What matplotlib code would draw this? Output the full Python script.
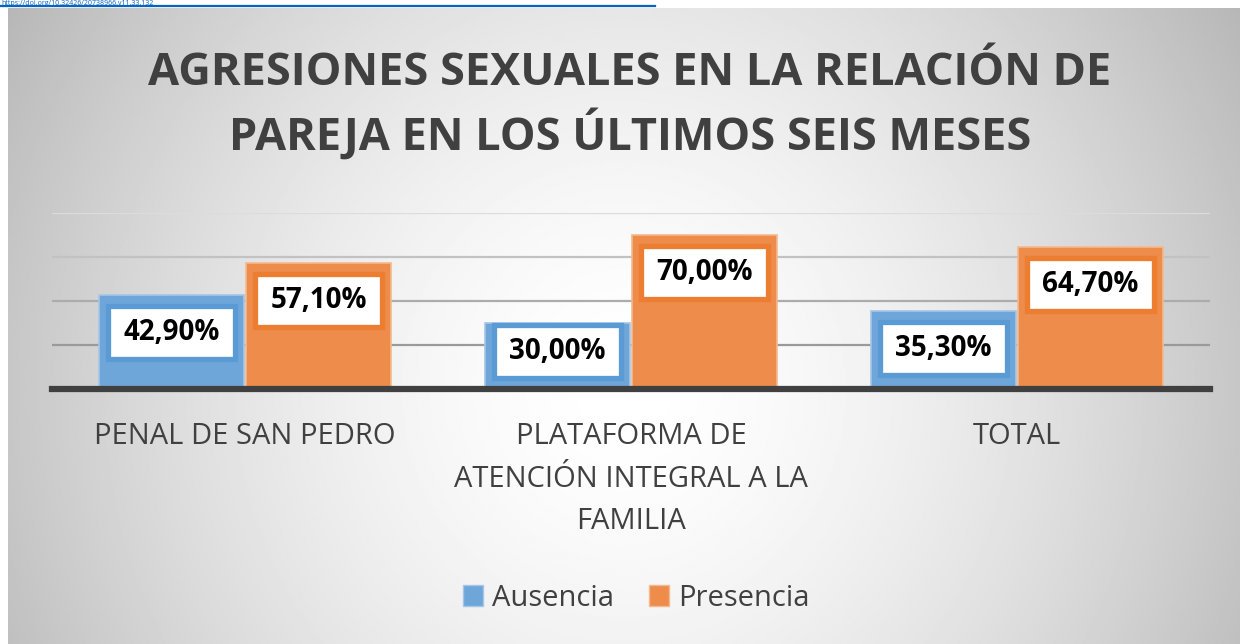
import numpy as np
import matplotlib
matplotlib.use("Agg")
import matplotlib.pyplot as plt
from matplotlib.lines import Line2D
from matplotlib.patches import Rectangle

plt.rcParams['font.family'] = ['Open Sans', 'DejaVu Sans']

# --- data ---
categories = ["PENAL DE SAN PEDRO", "PLATAFORMA DE\nATENCIÓN INTEGRAL A LA\nFAMILIA", "TOTAL"]
series_names = ["Ausencia", "Presencia"]
ausencia = [42.9, 30.0, 35.3]
presencia = [57.1, 70.0, 64.7]
gridlines = [20, 40, 60, 80]
title_lines = ["AGRESIONES SEXUALES EN LA RELACIÓN DE", "PAREJA EN LOS ÚLTIMOS SEIS MESES"]
link = "https://doi.org/10.32426/20738966.v11.33.132"

BLUE, ORANGE = "#5b9bd5", "#ed7d31"
BLUE_FILL, ORANGE_FILL = "#6fa6da", "#ee8c4b"
BLUE_EDGE, ORANGE_EDGE = "#a5c6e8", "#f4b98f"
TXT = "#404040"

W, H = 1240, 644
fig = plt.figure(figsize=(W / 100, H / 100), dpi=100)
fig.patch.set_facecolor("white")

# gradient background panel
bg = fig.add_axes([8 / W, 0, (W - 8) / W, (H - 8) / H])
bg.set_axis_off()
yy, xx = np.mgrid[-1:1:300j, -1:1:600j]
r = np.sqrt(xx ** 2 + 0.25 * (yy - 0.2) ** 2)
v = np.clip(1 - 0.22 * r ** 1.6, 0, 1)
bg.imshow(v, cmap="gray", vmin=0, vmax=1, aspect="auto", extent=[0, 1, 0, 1])
bg.set_xlim(0, 1)
bg.set_ylim(0, 1)

# link strip at the very top
fig.text(1 / W, 1 - 3.5 / H, link, color="#0563c1", fontsize=5, ha="left", va="center")
fig.add_artist(Line2D([0, 655 / W], [1 - 6 / H, 1 - 6 / H], color="#0563c1", lw=1.6))

# main axes
x0, x1 = 52, 1210
ybase, ytop = 389, 213
ax = fig.add_axes([x0 / W, (H - ybase) / H, (x1 - x0) / W, (ybase - ytop) / H])
ax.patch.set_alpha(0)
ax.set_xlim(-0.5, len(categories) - 0.5)
ax.set_ylim(0, 80)
for s in ax.spines.values():
    s.set_visible(False)
ax.set_yticks([])
ax.set_xticks([])

grid_colors = ["#9a9a9a", "#acacac", "#c2c2c2", "#dcdcdc"]
for g, c in zip(gridlines, grid_colors):
    ax.axhline(g, color=c, lw=1.6, zorder=1)
ax.axhline(0, color="#404040", lw=4.5, zorder=4, clip_on=False)

x = np.arange(len(categories))
bw = 0.375
bars_a = ax.bar(x - bw / 2 - 0.003, ausencia, bw, color=BLUE_FILL, edgecolor=BLUE_EDGE, lw=1.2, zorder=2)
bars_p = ax.bar(x + bw / 2 + 0.003, presencia, bw, color=ORANGE_FILL, edgecolor=ORANGE_EDGE, lw=1.2, zorder=2)

px_x = (x1 - x0) / 3.0       # pixels per category unit
px_y = (ybase - ytop) / 80.0  # pixels per percent
box_w, box_h = 127 / px_x, 53 / px_y
for bars, vals, col in [(bars_a, ausencia, BLUE), (bars_p, presencia, ORANGE)]:
    for b, val in zip(bars, vals):
        cx = b.get_x() + b.get_width() / 2
        ly = max(val - 17, 17)
        ax.add_patch(Rectangle((cx - box_w / 2, ly - box_h / 2), box_w, box_h,
                               facecolor="white", edgecolor=col, lw=3.8, zorder=5))
        ax.text(cx, ly, f"{val:.2f}%".replace(".", ","), ha="center", va="center",
                fontsize=20, fontweight="bold", color="black", zorder=6)

for i, cat in enumerate(categories):
    ax.text(i, -15.0, cat, ha="center", va="top", fontsize=21, color=TXT, linespacing=1.62)

for line, base in zip(title_lines, [85, 150]):
    fig.text(630 / W, 1 - base / H, line, ha="center", va="baseline", fontsize=32.5,
             fontweight="bold", color=TXT)

handles = [Rectangle((0, 0), 1, 1, facecolor=BLUE_FILL, edgecolor=BLUE_EDGE),
           Rectangle((0, 0), 1, 1, facecolor=ORANGE_FILL, edgecolor=ORANGE_EDGE)]
fig.legend(handles, series_names, loc="center", bbox_to_anchor=(636 / W, 1 - 598 / H),
           ncol=2, frameon=False, fontsize=21, handlelength=0.7, handleheight=0.7,
           handletextpad=0.3, columnspacing=1.2, labelcolor=TXT)

fig.savefig("out.png", dpi=100)
